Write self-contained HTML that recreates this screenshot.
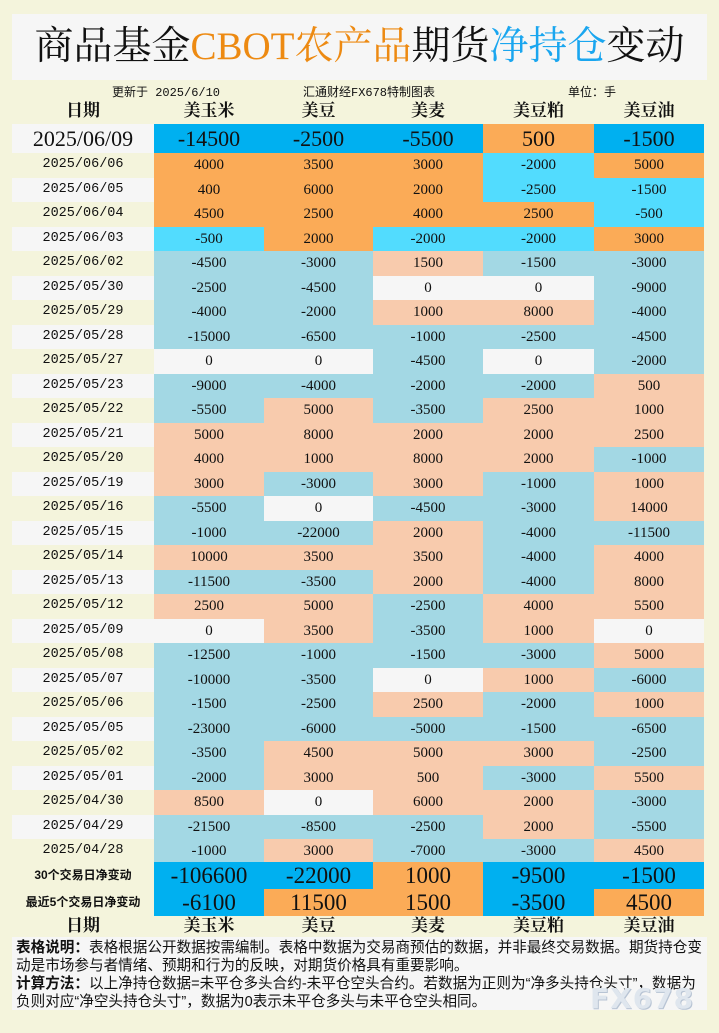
<!DOCTYPE html>
<html><head><meta charset="utf-8"><style>
*{margin:0;padding:0;box-sizing:border-box}
body{width:719px;height:1033px;background:#f4f4dc;position:relative;overflow:hidden;font-family:"Liberation Serif","Noto Serif CJK SC",serif;color:#111}
.title{position:absolute;left:12px;top:14px;width:695px;height:66px;background:#f6f6f6;text-align:center;font-size:39px;line-height:66px;font-family:"Liberation Serif","Noto Serif CJK SC",serif}
.o{color:#ed8a12}.b{color:#1aa6ef}
.sub{position:absolute;top:83px;font-size:12px;font-family:"Liberation Mono","Noto Sans CJK SC",monospace}
.hdr{position:absolute;left:12px;width:692px;height:22px;font-size:17px;font-weight:bold}
.hdr div{position:absolute;top:0;text-align:center;line-height:22px}
.row{position:absolute;left:12px;width:692px}
.row div{position:absolute;top:0;height:100%;text-align:center}
.note{position:absolute;left:12px;top:937px;width:695px;height:73px;background:#f6f6f6;padding:2px 4px;font-family:"Liberation Sans","Noto Sans CJK SC",sans-serif;font-size:14.6px;line-height:18px;color:#111}
.wm{position:absolute;left:590px;top:982px;font-family:"DejaVu Sans","Liberation Sans",sans-serif;font-size:28px;color:#dfe6ee;font-weight:bold;letter-spacing:1px;text-shadow:1px 1px 0 #b8c4d4}
</style></head><body>
<div class="title">商品基金<span class="o">CBOT农产品</span>期货<span class="b">净持仓</span>变动</div>
<div class="sub" style="left:112px">更新于 2025/6/10</div>
<div class="sub" style="left:303px">汇通财经FX678特制图表</div>
<div class="sub" style="left:568px">单位：手</div>
<div id="t"></div>
<div class="note"><b>表格说明：</b>表格根据公开数据按需编制。表格中数据为交易商预估的数据，并非最终交易数据。期货持仓变动是市场参与者情绪、预期和行为的反映，对期货价格具有重要影响。<br><b>计算方法：</b>以上净持仓数据=未平仓多头合约-未平仓空头合约。若数据为正则为“净多头持仓头寸”，数据为负则对应“净空头持仓头寸”，数据为0表示未平仓多头与未平仓空头相同。</div>
<div class="wm">FX678</div>
<script>
(function(){
var X=[0,142,252,361,471,582,692];
var names=["日期","美玉米","美豆","美麦","美豆粕","美豆油"];
var h='';
function hdr(tp){var s='<div class="hdr" style="top:'+tp+'px">';for(var i=0;i<6;i++)s+='<div style="left:'+X[i]+'px;width:'+(X[i+1]-X[i])+'px">'+names[i]+'</div>';return s+'</div>';}
h+=hdr(100);
function row(tp,ht,label,lblbg,lblstyle,vals,colorfn,fs){
 var s='<div class="row" style="top:'+tp+'px;height:'+ht+'px;line-height:'+ht+'px;font-size:'+fs+'px;">';
 s+='<div style="left:0;width:142px;background:'+lblbg+';'+lblstyle+'">'+label+'</div>';
 for(var i=0;i<5;i++)s+='<div style="left:'+X[i+1]+'px;width:'+(X[i+2]-X[i+1])+'px;background:'+colorfn(vals[i])+'">'+vals[i]+'</div>';
 return s+'</div>';}
var strong=function(v){return v>0?'#fbab57':(v<0?'#00b0f0':'#f6f6f6')};
var mid=function(v){return v>0?'#fbab57':(v<0?'#52dcfe':'#f6f6f6')};
var soft=function(v){return v>0?'#f8cbad':(v<0?'#a3d8e4':'#f6f6f6')};
h+=row(124,29,'2025/06/09','#f6f6f6','font-size:22px;',[-14500,-2500,-5500,500,-1500],strong,22);
var D=[["06/06",4000,3500,3000,-2000,5000],["06/05",400,6000,2000,-2500,-1500],["06/04",4500,2500,4000,2500,-500],["06/03",-500,2000,-2000,-2000,3000],
["06/02",-4500,-3000,1500,-1500,-3000],["05/30",-2500,-4500,0,0,-9000],["05/29",-4000,-2000,1000,8000,-4000],["05/28",-15000,-6500,-1000,-2500,-4500],
["05/27",0,0,-4500,0,-2000],["05/23",-9000,-4000,-2000,-2000,500],["05/22",-5500,5000,-3500,2500,1000],["05/21",5000,8000,2000,2000,2500],
["05/20",4000,1000,8000,2000,-1000],["05/19",3000,-3000,3000,-1000,1000],["05/16",-5500,0,-4500,-3000,14000],["05/15",-1000,-22000,2000,-4000,-11500],
["05/14",10000,3500,3500,-4000,4000],["05/13",-11500,-3500,2000,-4000,8000],["05/12",2500,5000,-2500,4000,5500],["05/09",0,3500,-3500,1000,0],
["05/08",-12500,-1000,-1500,-3000,5000],["05/07",-10000,-3500,0,1000,-6000],["05/06",-1500,-2500,2500,-2000,1000],["05/05",-23000,-6000,-5000,-1500,-6500],
["05/02",-3500,4500,5000,3000,-2500],["05/01",-2000,3000,500,-3000,5500],["04/30",8500,0,6000,2000,-3000],["04/29",-21500,-8500,-2500,2000,-5500],["04/28",-1000,3000,-7000,-3000,4500]];
for(var r=0;r<D.length;r++){
 var tp=153+r*24.5;
 h+=row(tp,24.6,'2025/'+D[r][0],r%2?'#f6f6f6':'#f4f4dc','font-size:13.5px;font-family:\'Liberation Mono\',monospace;',D[r].slice(1),r<4?mid:soft,15);
}
h+=row(862,27,'30个交易日净变动','#f4f4dc','font-size:12px;font-family:\'Liberation Sans\',\'Noto Sans CJK SC\',sans-serif;font-weight:bold;',[-106600,-22000,1000,-9500,-1500],strong,23);
h+=row(889,27,'最近5个交易日净变动','#f4f4dc','font-size:12px;font-family:\'Liberation Sans\',\'Noto Sans CJK SC\',sans-serif;font-weight:bold;',[-6100,11500,1500,-3500,4500],strong,23);
h+=hdr(915);
document.getElementById('t').innerHTML=h;
})();
</script>
</body></html>
